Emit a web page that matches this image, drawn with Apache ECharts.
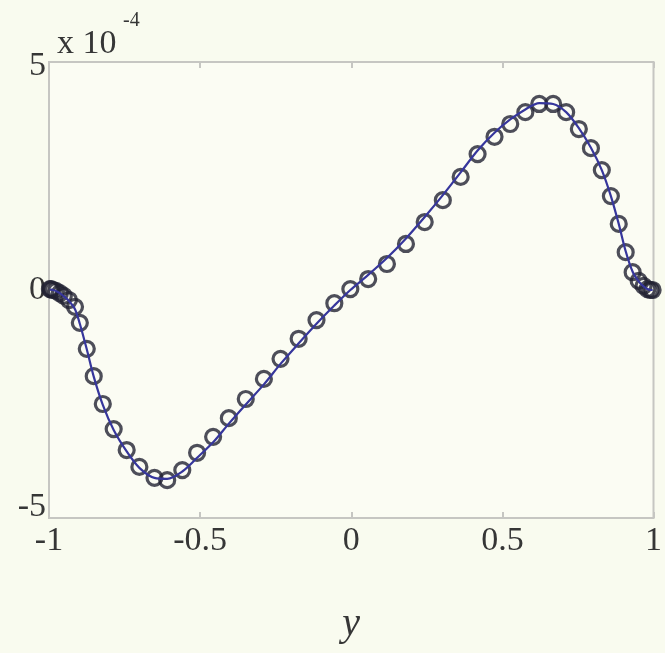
<!DOCTYPE html>
<html>
<head>
<meta charset="utf-8">
<script src="https://cdn.jsdelivr.net/npm/echarts@6/dist/echarts.min.js"></script>
<style>
  html, body { margin: 0; padding: 0; background: #f9fbef; }
  #chart { width: 665px; height: 653px; }
</style>
</head>
<body>
<div id="chart"></div>
<script>
// Sample locations (clustered towards the ends of [-1, 1])
const samplePoints = [
  -0.997, -0.993, -0.987, -0.977, -0.964, -0.951, -0.934, -0.914, -0.898, -0.875,
  -0.852, -0.822, -0.786, -0.743, -0.701, -0.651, -0.609, -0.559, -0.510, -0.457,
  -0.405, -0.349, -0.289, -0.234, -0.174, -0.115, -0.056, -0.003, 0.056, 0.118,
  0.181, 0.243, 0.303, 0.362, 0.418, 0.474, 0.526, 0.576, 0.622, 0.668,
  0.711, 0.753, 0.793, 0.829, 0.859, 0.885, 0.908, 0.931, 0.951, 0.967,
  0.980, 0.990, 0.997
];

// Discrete values (circles), in units of 1e-4
const discreteValues = [
  0.02, 0.02, 0.00, -0.02, -0.07, -0.13, -0.22, -0.37, -0.72, -1.29,
  -1.89, -2.50, -3.05, -3.51, -3.88, -4.12, -4.17, -3.95, -3.57, -3.22,
  -2.81, -2.39, -1.95, -1.51, -1.07, -0.66, -0.29, 0.02, 0.24, 0.57,
  1.01, 1.49, 1.97, 2.48, 2.98, 3.36, 3.64, 3.90, 4.08, 4.08,
  3.90, 3.53, 3.11, 2.63, 2.06, 1.45, 0.83, 0.39, 0.20, 0.09,
  0.02, 0.00, 0.00
];

// Reference solution (solid curve), in units of 1e-4
const curveValues = [
  0.00, 0.01, 0.00, -0.02, -0.07, -0.14, -0.24, -0.42, -0.74, -1.30,
  -1.90, -2.52, -3.07, -3.54, -3.90, -4.12, -4.14, -3.98, -3.68, -3.34,
  -2.93, -2.51, -2.07, -1.62, -1.17, -0.74, -0.34, 0.00, 0.33, 0.70,
  1.13, 1.60, 2.08, 2.58, 3.06, 3.45, 3.74, 3.96, 4.10, 4.08,
  3.90, 3.55, 3.12, 2.63, 2.06, 1.45, 0.85, 0.40, 0.19, 0.08,
  0.02, 0.00, 0.00
];

const xTickValues = [-1, -0.5, 0, 0.5, 1];
const yTickValues = [-5, 0, 5];
const yScaleText = 'x 10';
const yScaleExponent = '-4';
const xAxisTitle = 'y';

const serif = 'Liberation Serif';
const textColor = '#363636';
const frameColor = '#c6c6c2';

const chart = echarts.init(document.getElementById('chart'), null, { renderer: 'canvas' });

const fmt = v => (v < 0 ? '-' + String(-v) : String(v));
const yMin = yTickValues[0];
const yMax = yTickValues[yTickValues.length - 1];

const axisCommon = {
  type: 'value',
  splitLine: { show: false },
  axisLine: { show: false, onZero: false },
  axisTick: { show: true, inside: true, length: 6, lineStyle: { color: frameColor, width: 2 } }
};

chart.setOption({
  backgroundColor: '#f9fbef',
  animation: false,
  textStyle: { fontFamily: serif },
  grid: {
    left: 49, right: 8, top: 62, bottom: 135,
    show: true, borderColor: frameColor, borderWidth: 2, backgroundColor: '#fbfcf3'
  },
  xAxis: [
    Object.assign({}, axisCommon, {
      min: xTickValues[0], max: xTickValues[xTickValues.length - 1], interval: 0.5,
      position: 'bottom',
      axisLabel: {
        formatter: fmt, color: textColor, fontFamily: serif, fontSize: 34, margin: 6
      },
      name: xAxisTitle, nameLocation: 'middle', nameGap: 86,
      nameTextStyle: { fontFamily: serif, fontStyle: 'italic', fontSize: 40, color: textColor }
    }),
    Object.assign({}, axisCommon, {
      min: -1, max: 1, interval: 0.5, position: 'top', axisLabel: { show: false }
    })
  ],
  yAxis: [
    Object.assign({}, axisCommon, {
      min: yMin, max: yMax, interval: 5,
      position: 'left',
      axisLabel: {
        color: textColor, fontFamily: serif, fontSize: 34, margin: 3,
        formatter: v => {
          if (v === yMax) return '{hi|' + fmt(v) + '}';
          if (v === yMin) return '{lo|' + fmt(v) + '}';
          return '{mid|' + fmt(v) + '}';
        },
        rich: {
          hi: { fontFamily: serif, fontSize: 34, color: textColor, padding: [8, 0, 0, 0] },
          mid: { fontFamily: serif, fontSize: 34, color: textColor },
          lo: { fontFamily: serif, fontSize: 34, color: textColor, padding: [0, 0, 22, 0] }
        }
      }
    }),
    Object.assign({}, axisCommon, {
      min: yMin, max: yMax, interval: 5, position: 'right', axisLabel: { show: false }
    })
  ],
  graphic: [
    {
      type: 'text', left: 57, top: 27,
      style: { text: yScaleText, fontFamily: serif, fontSize: 34, fill: textColor }
    },
    {
      type: 'text', left: 123, top: 11,
      style: { text: yScaleExponent, fontFamily: serif, fontSize: 20, fill: textColor }
    }
  ],
  series: [
    {
      type: 'scatter',
      data: samplePoints.map((x, i) => [x, discreteValues[i]]),
      symbol: 'circle',
      symbolSize: 15,
      itemStyle: { color: 'rgba(0,0,0,0)', borderColor: '#222232', borderWidth: 3.2 },
      z: 2
    },
    {
      type: 'line',
      data: samplePoints.map((x, i) => [x, curveValues[i]]),
      smooth: 0.3,
      showSymbol: false,
      lineStyle: { color: '#36369c', width: 2.2 },
      z: 3
    }
  ]
});
</script>
</body>
</html>
